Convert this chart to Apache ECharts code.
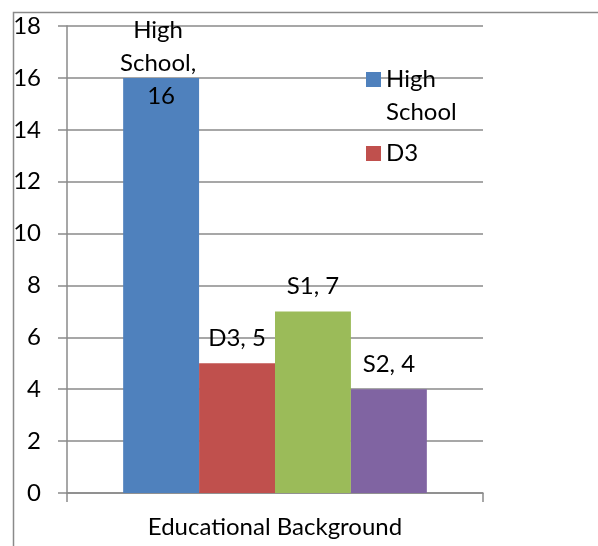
<!DOCTYPE html>
<html>
<head>
<meta charset="utf-8">
<script src="https://cdn.jsdelivr.net/npm/echarts@6/dist/echarts.min.js"></script>
<style>
html,body{margin:0;padding:0;background:#fff;}
#chart{width:598px;height:546px;}
</style>
</head>
<body>
<div id="chart"></div>
<script>
var categories = ['Educational Background'];
var seriesNames = ['High School', 'D3', 'S1', 'S2'];
var seriesValues = [16, 5, 7, 4];
var seriesColors = ['#4F81BD', '#C0504D', '#9BBB59', '#8064A2'];
var legendNames = ['High School', 'D3'];
var yTicks = { min: 0, max: 18, interval: 2 };

var FONT = 'Lato';
var FS = 24;
var LINE = '#8a8a8a';

var chart = echarts.init(document.getElementById('chart'), null, { renderer: 'canvas' });

var series = seriesNames.map(function (name, i) {
  var lbl = {
    show: true,
    position: 'top',
    distance: 13,
    formatter: '{a}, {c}',
    color: '#000',
    fontFamily: FONT,
    fontSize: FS
  };
  if (i === 0) {
    lbl.width = 84;
    lbl.overflow = 'break';
    lbl.lineHeight = 33;
    lbl.distance = 0;
    lbl.offset = [0, 35];
  }
  return {
    name: name,
    type: 'bar',
    data: [seriesValues[i]],
    itemStyle: { color: seriesColors[i] },
    barGap: '0%',
    barCategoryGap: '27%',
    label: lbl
  };
});

chart.setOption({
  animation: false,
  textStyle: { fontFamily: FONT },
  grid: { left: 67, right: 115, top: 26, bottom: 53, containLabel: false },
  legend: {
    data: legendNames,
    orient: 'vertical',
    left: 366,
    top: 30,
    padding: 0,
    itemWidth: 15,
    itemHeight: 15,
    itemGap: 8,
    icon: 'rect',
    formatter: function (name) {
      return name === 'High School' ? ' \nHigh\nSchool' : name;
    },
    textStyle: { fontFamily: FONT, fontSize: FS, color: '#000', lineHeight: 33 }
  },
  xAxis: {
    type: 'category',
    data: categories,
    axisLine: { lineStyle: { color: LINE, width: 1.5 } },
    axisTick: { show: true, length: 9, lineStyle: { color: LINE, width: 1.5 } },
    axisLabel: { color: '#000', fontFamily: FONT, fontSize: FS, margin: 22 }
  },
  yAxis: {
    type: 'value',
    min: yTicks.min,
    max: yTicks.max,
    interval: yTicks.interval,
    axisLine: { show: true, lineStyle: { color: LINE, width: 1.5 } },
    axisTick: { show: true, length: 9, lineStyle: { color: LINE, width: 1.5 } },
    splitLine: { show: true, lineStyle: { color: LINE, width: 1.5 } },
    axisLabel: { color: '#000', fontFamily: FONT, fontSize: FS, margin: 26 }
  },
  graphic: [{
    type: 'rect',
    left: 11,
    top: 10,
    silent: true,
    z: -1,
    shape: { x: 0, y: 0, width: 1000, height: 1000 },
    style: { fill: 'none', stroke: LINE, lineWidth: 1.5 }
  }],
  series: series
});
</script>
</body>
</html>
